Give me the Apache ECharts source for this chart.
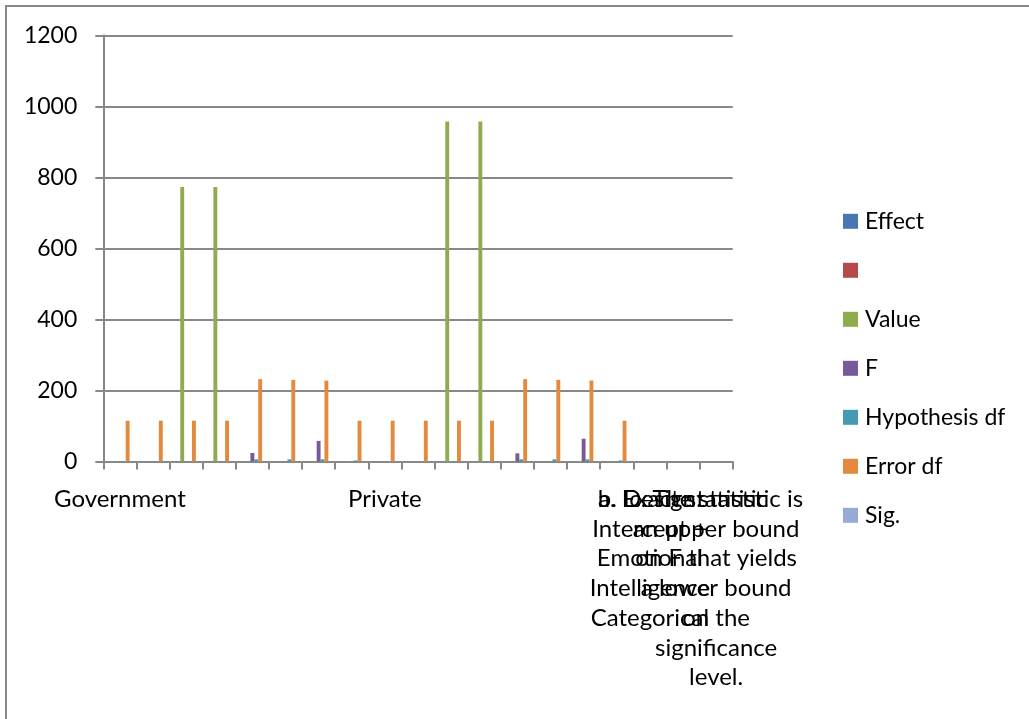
<!DOCTYPE html>
<html>
<head>
<meta charset="utf-8">
<script src="https://cdn.jsdelivr.net/npm/echarts@6/dist/echarts.min.js"></script>
<style>
  html, body { margin: 0; padding: 0; background: #ffffff; }
  #chart { width: 1029px; height: 719px; }
</style>
</head>
<body>
<div id="chart"></div>
<script>
// Row labels of the multivariate tests table (most rows carry no label).
const categories = [
  'Government', '', '', '', '', '', '', '',
  'Private', '', '', '', '', '', '', '',
  'b. Design:\nIntercept +\nEmotional\nIntelligence\nCategorical',
  'a. Exact statistic',
  'c. The statistic is\nan upper bound\non F that yields\na lower bound\non the\nsignificance\nlevel.'
];

const seriesNames = ['Effect', ' ', 'Value', 'F', 'Hypothesis df', 'Error df', 'Sig.'];

// Text columns: nothing numeric to plot.
const effectValues = [null, null, null, null, null, null, null, null, null, null, null, null, null, null, null, null, null, null, null];
const blankValues  = [null, null, null, null, null, null, null, null, null, null, null, null, null, null, null, null, null, null, null];

const valueValues  = [null, null, 773, 773, null, null, 1.2, 1.2, null, null, 958, 958, null, null, 1.2, 1.2, null, null, null];
const fValues      = [null, null, null, null, 24, null, 58, null, null, null, null, null, 23, null, 64, null, null, null, null];
const hypDfValues  = [null, null, null, null, 6, 6, 6, 3, null, null, null, null, 6, 6, 6, 3, null, null, null];
const errorDfValues = [115, 115, 115, 115, 232, 230, 228, 115, 115, 115, 115, 115, 232, 230, 228, 115, null, null, null];
const sigValues    = [0, 0, 0, 0, 0, 0, 0, 0, 0, 0, 0, 0, 0, 0, 0, 0, null, null, null];

const yTicks = { min: 0, max: 1200, step: 200 };

const seriesData = [effectValues, blankValues, valueValues, fValues, hypDfValues, errorDfValues, sigValues];
const seriesColors = ['#4876b3', '#b4484a', '#8eac4e', '#775a99', '#4599b3', '#e38a3f', '#95abd5'];

const FONT = 'Lato, "DejaVu Sans", sans-serif';
const AXIS_GRAY = '#888888';

const chart = echarts.init(document.getElementById('chart'), null, { renderer: 'canvas' });

chart.setOption({
  animation: false,
  backgroundColor: '#ffffff',
  graphic: [{
    type: 'rect',
    silent: true,
    shape: { x: 6, y: 6, width: 1200, height: 900 },
    style: { fill: 'none', stroke: AXIS_GRAY, lineWidth: 2 }
  }],
  grid: { left: 103.3, right: 296.3, top: 35.5, bottom: 257.5 },
  legend: {
    orient: 'vertical',
    left: 843,
    top: 209.8,
    padding: 0,
    itemWidth: 15,
    itemHeight: 15,
    itemGap: 26,
    icon: 'rect',
    selectedMode: false,
    data: seriesNames,
    textStyle: { fontFamily: FONT, fontSize: 23, lineHeight: 22, color: '#000000', padding: [0, 0, 0, 2] }
  },
  xAxis: {
    type: 'category',
    data: categories,
    axisLine: { show: true, lineStyle: { color: AXIS_GRAY, width: 2 } },
    axisTick: { show: true, interval: 0, length: 8, lineStyle: { color: AXIS_GRAY, width: 2 } },
    axisLabel: {
      interval: 0,
      hideOverlap: false,
      margin: 23,
      color: '#000000',
      fontFamily: FONT,
      fontSize: 24,
      lineHeight: 29.7
    },
    splitLine: { show: false }
  },
  yAxis: {
    type: 'value',
    min: yTicks.min,
    max: yTicks.max,
    interval: yTicks.step,
    axisLine: { show: true, lineStyle: { color: AXIS_GRAY, width: 2 } },
    axisTick: { show: true, length: 8, lineStyle: { color: AXIS_GRAY, width: 2 } },
    axisLabel: {
      margin: 26,
      color: '#000000',
      fontFamily: FONT,
      fontSize: 23,
      formatter: (v) => String(v)
    },
    splitLine: { show: true, lineStyle: { color: AXIS_GRAY, width: 2 } }
  },
  series: seriesNames.map((name, i) => ({
    name: name,
    type: 'bar',
    data: seriesData[i],
    barGap: '0%',
    barCategoryGap: '17.6%',
    silent: true,
    itemStyle: { color: seriesColors[i] },
    emphasis: { disabled: true }
  }))
});
</script>
</body>
</html>
